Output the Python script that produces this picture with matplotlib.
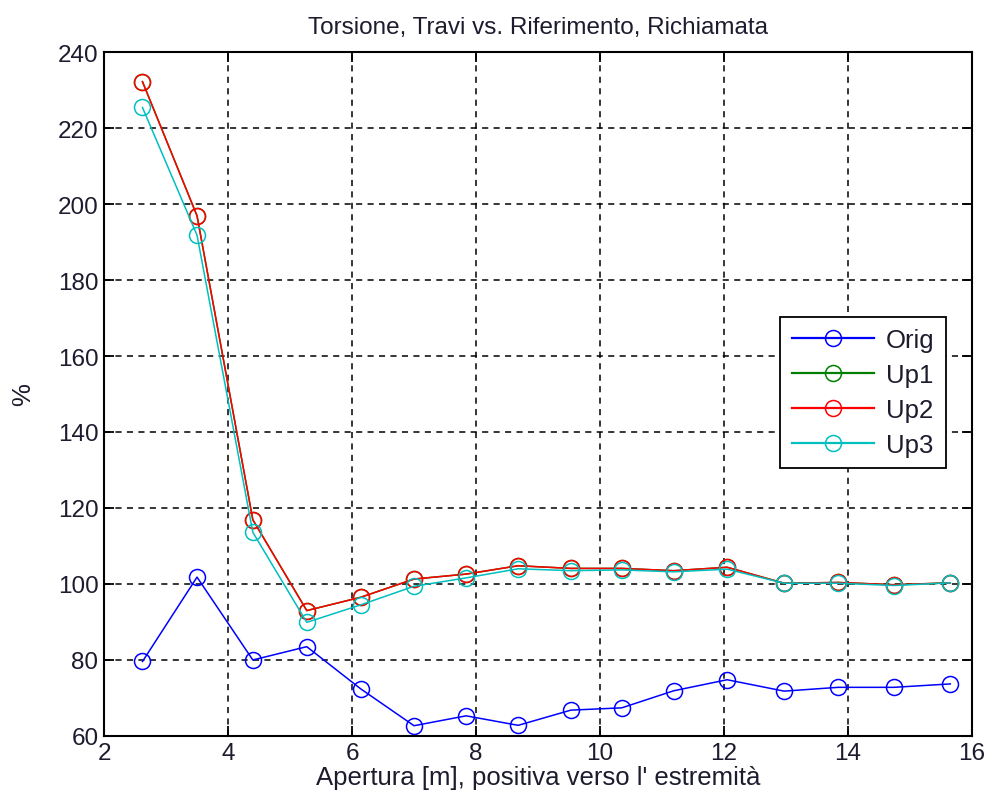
import numpy as np
import matplotlib
matplotlib.use('Agg')
import matplotlib.pyplot as plt

plt.rcParams['font.family'] = ['Liberation Sans', 'DejaVu Sans']

# Apertura positions (m)
x = [2.62, 3.50, 4.40, 5.27, 6.14, 7.00, 7.84, 8.68,
     9.53, 10.35, 11.19, 12.05, 12.97, 13.84, 14.74, 15.65]

# Torsione ratios (%)
orig = [79.6, 101.8, 80.0, 83.5, 72.4, 62.7, 65.3, 62.8,
        66.8, 67.4, 71.9, 74.8, 71.8, 72.8, 72.8, 73.7]
up1 = [232.2, 196.9, 116.9, 93.0, 96.5, 101.3, 102.6, 104.8,
       104.1, 104.1, 103.5, 104.4, 100.2, 100.4, 99.8, 100.3]
up2 = [232.2, 196.9, 116.9, 93.0, 96.5, 101.3, 102.6, 104.8,
       104.1, 104.1, 103.5, 104.4, 100.2, 100.4, 99.8, 100.3]
up3 = [225.4, 191.8, 113.6, 89.9, 94.5, 99.4, 101.6, 104.0,
       103.5, 103.7, 103.2, 103.9, 100.2, 100.2, 99.6, 100.3]

labels = ['Orig', 'Up1', 'Up2', 'Up3']
colors = ['#0000ff', '#008000', '#ff0000', '#00bfbf']
txt = '#1c1c2e'

fig = plt.figure(figsize=(9.88, 8.12), dpi=100)
ax = fig.add_axes([0.1053, 0.0924, 0.8785, 0.8423])

for y, lab, c in zip([orig, up1, up2, up3], labels, colors):
    ax.plot(x, y, '-o', color=c, label=lab, lw=1.1,
            markersize=11.5, markerfacecolor='none', markeredgewidth=1.1)

ax.set_xlim(2, 16)
ax.set_ylim(60, 240)
ax.set_xticks(np.arange(2, 17, 2))
ax.set_yticks(np.arange(60, 241, 20))
ax.grid(True, color='black', linestyle=(0, (4, 3.5)), linewidth=1.1)
ax.tick_params(direction='in', top=True, right=True, length=7, width=1.3,
               labelsize=17.5, colors='black', labelcolor=txt, pad=4)
for s in ax.spines.values():
    s.set_linewidth(1.5)

ax.set_title('Torsione, Travi vs. Riferimento, Richiamata', fontsize=17.5,
             color=txt, pad=14)
ax.set_xlabel("Apertura [m], positiva verso l' estremità", fontsize=18.5,
              color=txt, labelpad=1)
ax.set_ylabel('%', fontsize=18.5, color=txt, labelpad=16)

leg = ax.legend(loc='center right', bbox_to_anchor=(0.970, 0.502), fontsize=18.5,
                fancybox=False, framealpha=1, edgecolor='black',
                handlelength=3.2, handletextpad=0.45, labelspacing=0.42,
                borderpad=0.45, borderaxespad=0)
leg.get_frame().set_linewidth(1.3)
for line in leg.get_lines():
    line.set_linewidth(1.6)
for t in leg.get_texts():
    t.set_color(txt)

fig.savefig('out.png', dpi=100)
